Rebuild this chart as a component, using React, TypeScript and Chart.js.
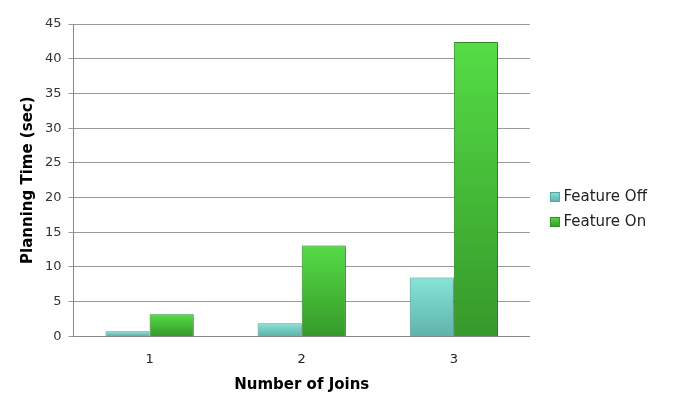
import React, { useEffect, useRef } from "react";
import { Chart, registerables } from "chart.js";

Chart.register(...registerables);

const categories = ["1", "2", "3"];
const featureOff = [0.75, 1.9, 8.5];
const featureOn = [3.2, 13.1, 42.4];
const seriesNames = ["Feature Off", "Feature On"];

const gradStops = [
  ["#86e4d8", "#5fb3aa"],
  ["#55dc45", "#36992b"],
];
const borderColors = ["#55a59c", "#2f8f26"];

function makeIcon(di: number): HTMLCanvasElement {
  const c = document.createElement("canvas");
  c.width = 38;
  c.height = 10;
  const x = c.getContext("2d")!;
  const g = x.createLinearGradient(0, 0, 0, 10);
  g.addColorStop(0, gradStops[di][0]);
  g.addColorStop(1, gradStops[di][1]);
  x.fillStyle = g;
  x.fillRect(21, 0, 10, 10);
  x.strokeStyle = borderColors[di];
  x.lineWidth = 1;
  x.strokeRect(21.5, 0.5, 9, 9);
  return c;
}

const barStyle = {
  id: "barStyle",
  beforeDatasetsDraw(chart: any) {
    const ctx = chart.ctx;
    chart.data.datasets.forEach((_: any, di: number) => {
      const meta = chart.getDatasetMeta(di);
      meta.data.forEach((el: any) => {
        const o = el.options;
        const g = ctx.createLinearGradient(0, el.y, 0, el.base);
        g.addColorStop(0, gradStops[di][0]);
        g.addColorStop(1, gradStops[di][1]);
        el.options = {
          backgroundColor: g,
          borderColor: o.borderColor,
          borderWidth: o.borderWidth,
          borderSkipped: o.borderSkipped,
          borderRadius: o.borderRadius,
          inflateAmount: o.inflateAmount,
        };
      });
    });
    ctx.save();
    ctx.shadowColor = "rgba(0,0,0,0.3)";
    ctx.shadowBlur = 4;
    ctx.shadowOffsetX = 2;
    ctx.shadowOffsetY = 2;
  },
  afterDatasetsDraw(chart: any) {
    chart.ctx.restore();
  },
};

export default function App() {
  const ref = useRef<HTMLCanvasElement>(null);
  useEffect(() => {
    const canvas = ref.current!;
    const icons = [makeIcon(0), makeIcon(1)];
    const chart = new Chart(canvas, {
      type: "bar",
      data: {
        labels: categories,
        datasets: [
          {
            label: seriesNames[0],
            data: featureOff,
            backgroundColor: "#72d6c9",
            borderColor: borderColors[0],
            borderWidth: 1,
            borderSkipped: "bottom",
          },
          {
            label: seriesNames[1],
            data: featureOn,
            backgroundColor: "#46c83a",
            borderColor: borderColors[1],
            borderWidth: 1,
            borderSkipped: "bottom",
          },
        ],
      },
      plugins: [barStyle],
      options: {
        responsive: false,
        animation: false,
        layout: { padding: { left: 19, right: 24, top: 24, bottom: 13 } },
        datasets: { bar: { barPercentage: 1, categoryPercentage: 0.58 } },
        plugins: {
          tooltip: { enabled: false },
          legend: {
            position: "right",
            labels: {
              font: { family: "DejaVu Sans", size: 15 },
              color: "#222",
              usePointStyle: true,
              pointStyleWidth: 16,
              boxHeight: 10,
              padding: 10,
              generateLabels(ch: any) {
                const items = Chart.defaults.plugins.legend.labels.generateLabels(ch);
                items.forEach((it: any, i: number) => {
                  it.pointStyle = icons[i];
                });
                return items;
              },
            },
          },
        },
        scales: {
          x: {
            grid: { display: false },
            border: { color: "#888" },
            ticks: { font: { family: "DejaVu Sans", size: 13 }, color: "#222", padding: 7 },
            title: {
              display: true,
              text: "Number of Joins",
              font: { family: "DejaVu Sans", size: 15, weight: "bold" },
              color: "#000",
              padding: { top: 2, bottom: 1 },
            },
          },
          y: {
            min: 0,
            max: 45,
            ticks: { stepSize: 5, font: { family: "DejaVu Sans", size: 13 }, color: "#333", padding: 7 },
            grid: { color: "#999", tickLength: 5, drawTicks: true },
            border: { color: "#888" },
            title: {
              display: true,
              text: "Planning Time (sec)",
              font: { family: "DejaVu Sans", size: 15, weight: "bold" },
              color: "#000",
              padding: { top: 0, bottom: 1 },
            },
          },
        },
      },
    });
    return () => chart.destroy();
  }, []);
  return (
    <div style={{ position: "absolute", left: 0, top: 0, width: 681, height: 408, background: "#fff" }}>
      <canvas ref={ref} width={681} height={408} />
    </div>
  );
}
